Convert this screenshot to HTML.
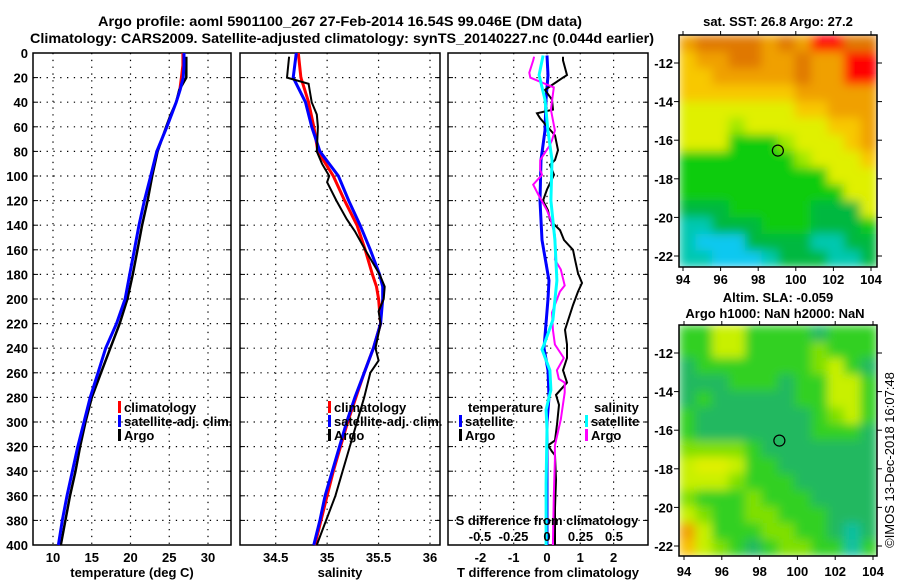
<!DOCTYPE html>
<html><head><meta charset="utf-8">
<style>
html,body{margin:0;padding:0;background:#fff;}
svg{display:block;font-family:"Liberation Sans",sans-serif;}
text{font-weight:bold;fill:#000;}
</style></head>
<body>
<svg id="chart" width="900" height="580" viewBox="0 0 900 580" xmlns="http://www.w3.org/2000/svg">
<defs>
<filter id="smooth" x="0" y="0" width="1" height="1"><feGaussianBlur stdDeviation="5" edgeMode="duplicate"/></filter>
<clipPath id="clipSst"><rect x="679" y="35" width="198" height="232"/></clipPath>
<clipPath id="clipSla"><rect x="679" y="325" width="198" height="231"/></clipPath>
</defs>
<text x="340" y="26" font-size="14" text-anchor="middle" textLength="484" lengthAdjust="spacingAndGlyphs">Argo profile: aoml 5901100_267 27-Feb-2014 16.54S 99.046E (DM data)</text>
<text x="342" y="43" font-size="14" text-anchor="middle" textLength="624" lengthAdjust="spacingAndGlyphs">Climatology: CARS2009. Satellite-adjusted climatology: synTS_20140227.nc (0.044d earlier)</text>
<g id="plots"></g>
<text x="778" y="26" font-size="13" text-anchor="middle">sat. SST: 26.8 Argo: 27.2</text>
<text x="778" y="302" font-size="13" text-anchor="middle">Altim. SLA: -0.059</text>
<text x="775" y="318" font-size="13" text-anchor="middle">Argo h1000: NaN h2000: NaN</text>
<text x="0" y="0" font-size="13" style="font-weight:normal" text-anchor="middle" transform="translate(894,460) rotate(-90)">©IMOS 13-Dec-2018 16:07:48</text>
</svg>
<script>
// ---------- data ----------
const depthTicks = [0,20,40,60,80,100,120,140,160,180,200,220,240,260,280,300,320,340,360,380,400];
const tempTicks = [10,15,20,25,30];
const salTicks = [34.5,35,35.5,36];
const salTickLabels = ["34.5","35","35.5","36"];
const tdiffTicks = [-2,-1,0,1,2];
const sdiffTicks = [-0.5,-0.25,0,0.25,0.5];
const sdiffTickLabels = ["-0.5","-0.25","0","0.25","0.5"];

const tDepths = [0,10,20,30,40,50,60,80,100,120,140,160,180,200,220,240,260,280,300,320,340,360,380,400];
const tempClim = [26.7,26.7,26.5,26.3,25.9,25.3,24.7,23.4,22.6,21.8,21.1,20.5,19.9,19.3,18.2,16.8,15.8,14.8,14.0,13.2,12.5,11.8,11.2,10.7];
const tempSat  = [26.9,26.9,26.8,26.4,25.9,25.3,24.7,23.4,22.6,21.8,21.1,20.5,19.9,19.3,18.2,16.8,15.8,14.8,14.0,13.2,12.5,11.8,11.2,10.7];
const tempArgoDepths = [3,10,20,30,40,50,60,80,100,120,140,160,180,200,220,240,260,280,300,320,340,360,380,400];
const tempArgo = [27.2,27.2,27.2,26.3,25.9,25.2,24.6,23.5,22.8,22.2,21.5,20.9,20.3,19.6,18.6,17.4,16.2,15.0,14.2,13.5,12.9,12.2,11.6,11.0];

const sDepths = [0,20,40,60,80,100,120,140,160,180,190,200,220,240,260,280,300,320,340,360,380,400];
const salClim = [34.72,34.745,34.82,34.87,34.91,35.06,35.17,35.29,35.37,35.44,35.48,35.5,35.52,35.45,35.36,35.28,35.2,35.13,35.06,35.0,34.94,34.88];
const salSat  = [34.70,34.67,34.79,34.85,34.93,35.11,35.21,35.32,35.42,35.51,35.54,35.54,35.52,35.45,35.36,35.27,35.19,35.12,35.05,34.98,34.93,34.87];
const salArgoDepths = [3,20,25,30,40,50,60,80,90,100,105,120,135,145,160,180,190,200,210,220,240,250,260,280,300,320,340,360,380,400];
const salArgo = [34.63,34.61,34.82,34.83,34.85,34.9,34.91,34.90,34.95,35.02,35.0,35.09,35.19,35.27,35.37,35.51,35.56,35.55,35.5,35.52,35.47,35.5,35.42,35.36,35.29,35.22,35.15,35.08,34.99,34.90];

const tdSatDepths = [2,18,38,63,87,120,152,185,200,220,240,258,280,300,350,400];
const tdSat = [0,0.03,-0.03,-0.06,-0.18,-0.21,-0.15,0.06,0.03,-0.03,-0.09,0.03,0.06,0,0,0];
const tdArgoDepths = [3,6,18,20,26,30,38,46,49,53,67,79,87,91,99,111,120,128,136,144,152,160,168,179,187,194,205,225,237,248,258,268,278,286,302,315,319,324,327,347,370,400];
const tdArgo = [0.48,0.48,0.6,0.48,0.15,-0.06,0.15,0.18,-0.3,-0.21,0.24,0.33,0.24,0.09,0.21,0,-0.12,0.03,0.09,0.39,0.51,0.78,0.84,0.93,1.05,0.93,0.78,0.54,0.6,0.6,0.48,0.6,0.27,0.36,0.3,0.24,0.03,0.15,0.24,0.27,0.24,0.24];
const sdSatDepths = [2,18,38,63,87,120,152,185,201,217,237,241,258,274,290,306,350,400];
const sdSat = [-0.029,-0.059,-0.015,0.007,0.037,0.029,0.059,0.074,0.059,0.044,-0.022,-0.037,0.022,0.029,-0.007,0,-0.007,-0.007];
const sdArgoDepths = [3,6,16,20,26,28,46,63,71,76,87,95,99,107,115,128,136,148,160,168,176,189,194,211,225,237,248,258,265,268,276,298,319,331,360,400];
const sdArgo = [-0.096,-0.103,-0.132,-0.125,0.007,0.051,0.029,0.059,0.037,0.015,-0.051,-0.051,-0.037,-0.103,-0.066,0,0.029,0.059,0.066,0.059,0.103,0.132,0.096,0.037,0.044,0.059,0.125,0.074,0.088,0.132,0.132,0.103,0.059,0.059,0.051,0.044];

const latTicks = [-12,-14,-16,-18,-20,-22];
const lonTicks = [94,96,98,100,102,104];
const sstGrid = [
"oOOOOoOoRROO",
"YooOOooOooRR",
"YYoooooOooRR",
"YYYYYYYooooo",
"yyyyyyyYYooo",
"yyyLyyyyyYYo",
"yyyGGGLyyyYo",
"GGGGGGGLyyyY",
"GGGGGGGGGyyy",
"GGGGGGGGGGyy",
"gggGGGGGgggy",
"TTgggGGGgggG",
"TCCCggggTTgg",
"TTCCCTgggTTg"];
const slaGrid = [
"GGyyGGGGtGGG",
"GGyyGGGGLGGG",
"tGGGGGGGLyGt",
"tttGGGtGGyyG",
"tGtttttGGyyG",
"GtttttttGLyG",
"GtttttttGGGt",
"LLLLGttttttt",
"yYYyGGtttttt",
"yyyLGGGttttt",
"LGGGLGGGtttt",
"yLGGLLGGGttt",
"OyGGGLLGGtTt",
"oyLGtGLLGGTG"];
const argoLon = 99.046, argoLat = -16.54;

// ---------- drawing ----------
const NS="http://www.w3.org/2000/svg";
const root=document.getElementById('plots');
function el(tag,attrs,parent){const e=document.createElementNS(NS,tag);for(const k in attrs)e.setAttribute(k,attrs[k]);(parent||root).appendChild(e);return e;}
const Y0=53,Y1=545;
const yD=d=>Y0+(Y1-Y0)*d/400;
function lin(d0,d1,r0,r1){return v=>r0+(v-d0)*(r1-r0)/(d1-d0);}

const panels=[
 {name:'temperature-panel',x0:33,x1:231,sx:lin(10,30,53,208),ticks:tempTicks,labels:tempTicks.map(String),title:'temperature (deg C)',ylabels:true},
 {name:'salinity-panel',x0:240,x1:440,sx:lin(34.5,36,275.7,430),ticks:salTicks,labels:salTickLabels,title:'salinity'},
 {name:'difference-panel',x0:448,x1:648,sx:lin(0,1,547,580.3),ticks:tdiffTicks,labels:tdiffTicks.map(String),title:'T difference from climatology'}
];
panels.forEach(p=>{
  const g=el('g',{});
  
  
  depthTicks.forEach(d=>{
    if(d>0&&d<400){const l=el('line',{x1:p.x0,x2:p.x1,y1:yD(d),y2:yD(d),stroke:'#000','stroke-width':1.2,'stroke-dasharray':'1.3 5.5'},g);
      }
    el('line',{x1:p.x0,x2:p.x0+5,y1:yD(d),y2:yD(d),stroke:'#000','stroke-width':1},g);
    el('line',{x1:p.x1-5,x2:p.x1,y1:yD(d),y2:yD(d),stroke:'#000','stroke-width':1},g);
    if(p.ylabels){const t=el('text',{x:28,y:yD(d)+5,'font-size':13,'text-anchor':'end'},g);t.textContent=d;
      }
  });
  p.ticks.forEach((v,i)=>{
    const x=p.sx(v);
    const l=el('line',{x1:x,x2:x,y1:Y0,y2:Y1,stroke:'#000','stroke-width':1.2,'stroke-dasharray':'1.3 5.5'},g);
    
    const t=el('text',{x:x,y:562,'font-size':13,'text-anchor':'middle'},g);t.textContent=p.labels[i];
    
  });
  const r=el('rect',{x:p.x0,y:Y0,width:p.x1-p.x0,height:Y1-Y0,fill:'none',stroke:'#000','stroke-width':1.5},g);
  
  const tt=el('text',{x:(p.x0+p.x1)/2,y:577,'font-size':13,'text-anchor':'middle'},g);tt.textContent=p.title;
  
  p.g=g;
});
function line(p,depths,vals,color,w,name){
  const pts=depths.map((d,i)=>p.sx(vals[i]).toFixed(1)+','+yD(d).toFixed(1)).join(' ');
  const pl=el('polyline',{points:pts,fill:'none',stroke:color,'stroke-width':w,'stroke-linejoin':'miter'},p.g);
  
  
}
line(panels[0],tDepths,tempClim,'#f00',2,'temperature-climatology-line');
line(panels[0],tempArgoDepths,tempArgo,'#000',2.5,'temperature-argo-line');
line(panels[0],tDepths,tempSat,'#00f',3,'temperature-satellite-line');
line(panels[1],sDepths,salClim,'#f00',3,'salinity-climatology-line');
line(panels[1],sDepths,salSat,'#00f',3,'salinity-satellite-line');
line(panels[1],salArgoDepths,salArgo,'#000',2,'salinity-argo-line');
const pS={sx:lin(0,0.5,547,614),g:panels[2].g};
line(panels[2],tdSatDepths,tdSat,'#00f',3,'t-diff-satellite-line');
line(panels[2],tdArgoDepths,tdArgo,'#000',2,'t-diff-argo-line');
line(pS,sdArgoDepths,sdArgo,'#f0f',2,'s-diff-argo-line');
line(pS,sdSatDepths,sdSat,'#0ff',3,'s-diff-satellite-line');
{const g=panels[2].g;
 const t=el('text',{x:547,y:525,'font-size':13,'text-anchor':'middle'},g);t.textContent='S difference from climatology';
 
 sdiffTicks.forEach((v,i)=>{const x=pS.sx(v);
   const tl=el('text',{x:x,y:541,'font-size':13,'text-anchor':'middle'},g);tl.textContent=sdiffTickLabels[i];
   });
}
function legend(g,x,y,color,label,name){
  if(color)el('rect',{x:x,y:y-11,width:3,height:12,fill:color},g);
  const t=el('text',{x:x+6,y:y,'font-size':13},g);t.textContent=label;
  
}
legend(panels[0].g,118,412,'#f00','climatology','legend-climatology');
legend(panels[0].g,118,426,'#00f','satellite-adj. clim.','legend-satellite-adj');
legend(panels[0].g,118,440,'#000','Argo','legend-argo');
legend(panels[1].g,328,412,'#f00','climatology','legend-climatology');
legend(panels[1].g,328,426,'#00f','satellite-adj. clim.','legend-satellite-adj');
legend(panels[1].g,328,440,'#000','Argo','legend-argo');
legend(panels[2].g,462,412,null,'temperature','legend-temperature-header');
legend(panels[2].g,459,426,'#00f','satellite','legend-t-satellite');
legend(panels[2].g,459,440,'#000','Argo','legend-t-argo');
legend(panels[2].g,588,412,null,'salinity','legend-salinity-header');
legend(panels[2].g,585,426,'#0ff','satellite','legend-s-satellite');
legend(panels[2].g,585,440,'#f0f','Argo','legend-s-argo');

// maps
const colors={R:'#ff0000',O:'#e07800',o:'#f0a000',Y:'#f8c800',y:'#e0f000',L:'#a0e800',G:'#10cc10',g:'#00b840',t:'#10b868',T:'#00c8b0',C:'#10c8f0'};
const slaColors={G:'#30d020',t:'#20b860',L:'#80e000',y:'#c8f000',Y:'#e0f000',O:'#f0a000',o:'#f8c000',T:'#10c0a0'};
function map(name,grid,pal,x0,x1,top,bot,lonA,latA,labY,clip){
  const g=el('g',{});
  
  
  const sx=lin(94,104,lonA[0],lonA[1]), sy=lin(-12,-22,latA[0],latA[1]);
  const rows=grid.length, cols=grid[0].length;
  const cw=(x1-x0)/cols, ch=(bot-top)/rows;
  const cg=el('g',{'clip-path':'url(#'+clip+')'},g);
  const fg=el('g',{filter:'url(#smooth)'},cg);
  grid.forEach((row,r)=>{[...row].forEach((c,k)=>{
    const cell=el('rect',{x:x0+k*cw,y:top+r*ch,width:cw+0.6,height:ch+0.6,fill:pal[c]},fg);
    
    
  });});
  el('rect',{x:x0,y:top,width:x1-x0,height:bot-top,fill:'none',stroke:'#000','stroke-width':1.5},g);
  latTicks.forEach(v=>{const y=sy(v);
    el('line',{x1:x0-5,x2:x0,y1:y,y2:y,stroke:'#000'},g);el('line',{x1:x1,x2:x1+5,y1:y,y2:y,stroke:'#000'},g);
    const t=el('text',{x:x0-6,y:y+5,'font-size':13,'text-anchor':'end'},g);t.textContent=v;
    });
  lonTicks.forEach(v=>{const x=sx(v);
    el('line',{x1:x,x2:x,y1:bot,y2:bot+4,stroke:'#000'},g);el('line',{x1:x,x2:x,y1:top-4,y2:top,stroke:'#000'},g);
    const t=el('text',{x:x,y:labY,'font-size':13,'text-anchor':'middle'},g);t.textContent=v;
    });
  const c=el('circle',{cx:sx(argoLon),cy:sy(argoLat),r:5.5,fill:'none',stroke:'#000','stroke-width':1.2},g);
  
}
map('sst-map',sstGrid,colors,679,877,35,267,[683,871],[63,256],284,'clipSst');
map('sla-map',slaGrid,slaColors,679,877,325,556,[684,873],[353,546],576,'clipSla');
</script>
</body></html>
